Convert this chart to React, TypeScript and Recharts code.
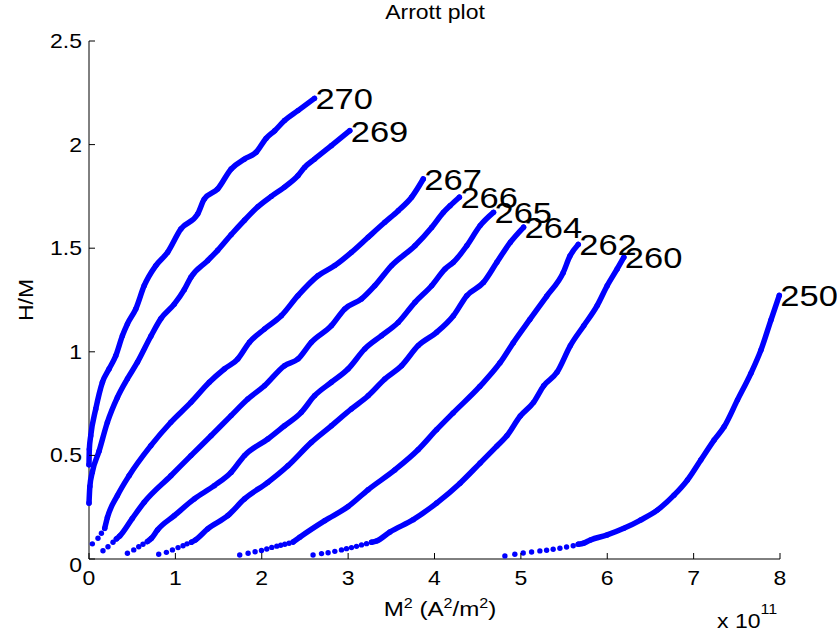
import React from 'react';
import { ScatterChart, Scatter, XAxis, YAxis } from 'recharts';

type Pt = [number, number];

// x: M^2 in units of 1e11 A^2/m^2, y: H/M
// run = dense part of each isotherm, tail = the loose points near H/M = 0
const run270: Pt[] = [
  [0.0, 0.455], [0.004, 0.53], [0.02, 0.595], [0.078, 0.724], [0.155, 0.853], [0.232, 0.917],
  [0.31, 0.981], [0.387, 1.078], [0.445, 1.135], [0.542, 1.207], [0.639, 1.319], [0.774, 1.416],
  [0.91, 1.48], [1.064, 1.593], [1.258, 1.665], [1.335, 1.737], [1.49, 1.786], [1.645, 1.882],
  [1.8, 1.93], [1.935, 1.963], [2.05, 2.03], [2.15, 2.067], [2.264, 2.116], [2.419, 2.164], [2.61, 2.223],
];
const run269: Pt[] = [
  [0.0, 0.27], [0.01, 0.35], [0.039, 0.42], [0.116, 0.52], [0.213, 0.66], [0.329, 0.78],
  [0.445, 0.87], [0.561, 0.95], [0.716, 1.075], [0.832, 1.16], [0.987, 1.23], [1.103, 1.3],
  [1.18, 1.36], [1.374, 1.44], [1.49, 1.49], [1.645, 1.565], [1.8, 1.635], [1.955, 1.7],
  [2.11, 1.75], [2.264, 1.795], [2.419, 1.85], [2.496, 1.89], [2.612, 1.93], [2.806, 1.995], [3.019, 2.067],
];
const tail267: Pt[] = [[0.039, 0.073], [0.104, 0.1], [0.144, 0.124]];
const run267: Pt[] = [
  [0.182, 0.148], [0.213, 0.2], [0.329, 0.306], [0.464, 0.402], [0.716, 0.547], [0.948, 0.66],
  [1.18, 0.756], [1.393, 0.853], [1.567, 0.917], [1.722, 0.965], [1.858, 1.046], [2.032, 1.11],
  [2.226, 1.174], [2.419, 1.271], [2.651, 1.367], [2.845, 1.416], [3.038, 1.48], [3.232, 1.553],
  [3.425, 1.625], [3.58, 1.681], [3.735, 1.746], [3.87, 1.834],
];
const tail266: Pt[] = [[0.162, 0.04], [0.22, 0.059], [0.278, 0.081]];
const run266: Pt[] = [
  [0.317, 0.097], [0.356, 0.111], [0.5, 0.195], [0.639, 0.274], [0.948, 0.402], [1.18, 0.499],
  [1.413, 0.595], [1.645, 0.692], [1.839, 0.772], [2.032, 0.836], [2.264, 0.933], [2.419, 0.965],
  [2.574, 1.046], [2.806, 1.126], [2.961, 1.207], [3.155, 1.255], [3.309, 1.319], [3.503, 1.416],
  [3.774, 1.512], [3.967, 1.6], [4.103, 1.673], [4.18, 1.705], [4.288, 1.746],
];
const tail265: Pt[] = [[0.445, 0.028], [0.518, 0.044], [0.576, 0.059], [0.625, 0.071]];
const run265: Pt[] = [
  [0.676, 0.084], [0.723, 0.1], [0.793, 0.14], [0.987, 0.209], [1.219, 0.29], [1.451, 0.354],
  [1.645, 0.418], [1.8, 0.499], [2.071, 0.579], [2.264, 0.643], [2.458, 0.708], [2.612, 0.788],
  [2.806, 0.853], [2.999, 0.917], [3.193, 1.014], [3.387, 1.078], [3.58, 1.142], [3.774, 1.239],
  [3.967, 1.319], [4.122, 1.4], [4.219, 1.432], [4.374, 1.512], [4.528, 1.609], [4.683, 1.673],
];
const tail264: Pt[] = [[0.807, 0.023], [0.896, 0.032], [0.966, 0.044], [1.031, 0.055], [1.089, 0.064], [1.135, 0.073]];
const run264: Pt[] = [
  [1.186, 0.081], [1.232, 0.092], [1.374, 0.145], [1.606, 0.209], [1.8, 0.29], [2.071, 0.37],
  [2.303, 0.45], [2.574, 0.563], [2.806, 0.643], [3.038, 0.724], [3.232, 0.788], [3.425, 0.869],
  [3.619, 0.933], [3.812, 1.03], [4.025, 1.094], [4.219, 1.174], [4.374, 1.271], [4.567, 1.335],
  [4.722, 1.432], [4.877, 1.528], [5.031, 1.601],
];
const tail262: Pt[] = [
  [1.745, 0.019], [1.842, 0.028], [1.923, 0.035], [1.997, 0.041], [2.058, 0.048],
  [2.116, 0.056], [2.174, 0.062], [2.22, 0.066], [2.267, 0.071], [2.316, 0.076],
];
const run262: Pt[] = [
  [2.363, 0.082], [2.44, 0.105], [2.73, 0.185], [3.0, 0.253], [3.231, 0.334], [3.541, 0.43],
  [3.81, 0.527], [4.024, 0.624], [4.216, 0.705], [4.525, 0.833], [4.757, 0.946], [4.911, 1.043],
  [5.104, 1.156], [5.298, 1.268], [5.49, 1.382], [5.568, 1.462], [5.664, 1.518],
];
const tail260: Pt[] = [
  [2.594, 0.019], [2.692, 0.026], [2.768, 0.03], [2.846, 0.037], [2.923, 0.044],
  [2.981, 0.05], [3.039, 0.055], [3.097, 0.061], [3.155, 0.068], [3.213, 0.074],
];
const run260: Pt[] = [
  [3.271, 0.081], [3.329, 0.087], [3.483, 0.13], [3.754, 0.19], [4.025, 0.27], [4.296, 0.366],
  [4.528, 0.463], [4.722, 0.545], [4.838, 0.595], [4.993, 0.69], [5.147, 0.756], [5.264, 0.836],
  [5.418, 0.901], [5.573, 1.03], [5.728, 1.126], [5.883, 1.223], [5.999, 1.319], [6.115, 1.4], [6.192, 1.456],
];
const tail250: Pt[] = [
  [4.815, 0.015], [4.93, 0.023], [5.027, 0.029], [5.124, 0.034], [5.22, 0.039],
  [5.298, 0.042], [5.374, 0.047], [5.452, 0.052], [5.529, 0.058], [5.606, 0.064],
];
const run250: Pt[] = [
  [5.664, 0.071], [5.73, 0.077], [5.806, 0.092], [5.999, 0.116], [6.192, 0.148], [6.386, 0.188],
  [6.58, 0.236], [6.773, 0.308], [6.928, 0.381], [7.083, 0.478], [7.237, 0.574], [7.353, 0.638],
  [7.508, 0.768], [7.663, 0.896], [7.779, 1.008], [7.895, 1.153], [7.992, 1.272],
];

const temps = ['270', '269', '267', '266', '265', '264', '262', '260', '250'];
const runs = [run270, run269, run267, run266, run265, run264, run262, run260, run250];
const tails = [[], [], tail267, tail266, tail265, tail264, tail262, tail260, tail250];

const xTicks = [0, 1, 2, 3, 4, 5, 6, 7, 8];
const yTicks = [0, 0.5, 1, 1.5, 2, 2.5];

const W = 837;
const H = 635;
const BLUE = '#0000ff';
const FONT = '"Liberation Sans", Arial, sans-serif';
const SX = 1.15; // glyphs are drawn a bit wide

document.body.style.margin = '0';

const toXY = (pts: Pt[]) => pts.map(([x, y]) => ({ x, y }));

const WideText = ({ x, y, size, anchor = 'start', rotate = 0, children }: any) => (
  <g transform={`translate(${x},${y}) rotate(${rotate}) scale(${SX},1)`}>
    <text x={0} y={0} textAnchor={anchor} fontSize={size} fontFamily={FONT} fill="#000">
      {children}
    </text>
  </g>
);

const Dot = (p: any) => <circle cx={p.cx} cy={p.cy} r={2.7} fill={BLUE} />;

const EndLabel = (p: any) => (
  <WideText x={p.cx + 1} y={p.cy + 11} size={30}>
    {p.payload.name}
  </WideText>
);

// ticks point into the plot
const XTick = (p: any) => (
  <g>
    <line x1={p.x} y1={p.y} x2={p.x} y2={p.y - 6} stroke="#000" />
    <WideText x={p.x} y={p.y + 26} size={20} anchor="middle">
      {String(p.payload.value)}
    </WideText>
  </g>
);

const YTick = (p: any) => (
  <g>
    <line x1={p.x} y1={p.y} x2={p.x + 6} y2={p.y} stroke="#000" />
    <WideText x={p.x - 7} y={p.y + 7 + (p.payload.value === 0 ? 6 : 0)} size={20} anchor="end">
      {String(p.payload.value)}
    </WideText>
  </g>
);

const ends = runs.map((r, i) => ({ x: r[r.length - 1][0], y: r[r.length - 1][1], name: temps[i] }));

const App = () => (
  <div style={{ position: 'relative', width: W, height: H, background: '#fff' }}>
    <ScatterChart width={W} height={H} margin={{ top: 41, right: 57, bottom: 0, left: 0 }}>
      <XAxis
        type="number"
        dataKey="x"
        domain={[0, 8]}
        ticks={xTicks}
        interval={0}
        height={76}
        axisLine={{ stroke: '#000' }}
        tickLine={false}
        tickSize={0}
        tickMargin={0}
        tick={XTick}
      />
      <YAxis
        type="number"
        dataKey="y"
        domain={[0, 2.5]}
        ticks={yTicks}
        interval={0}
        width={89}
        axisLine={{ stroke: '#000' }}
        tickLine={false}
        tickSize={0}
        tickMargin={0}
        tick={YTick}
      />
      {tails.map((t, i) => (
        <Scatter key={'tail' + temps[i]} data={toXY(t)} shape={Dot} isAnimationActive={false} />
      ))}
      {runs.map((r, i) => (
        <Scatter
          key={'run' + temps[i]}
          data={toXY(r)}
          shape={Dot}
          line={{ stroke: BLUE, strokeWidth: 5.5, strokeLinejoin: 'round', strokeLinecap: 'round' }}
          lineType="joint"
          lineJointType="monotoneX"
          isAnimationActive={false}
        />
      ))}
      <Scatter data={ends} shape={EndLabel} isAnimationActive={false} />
    </ScatterChart>
    <svg width={W} height={H} style={{ position: 'absolute', left: 0, top: 0, pointerEvents: 'none' }}>
      <WideText x={435} y={19} size={20} anchor="middle">Arrott plot</WideText>
      <WideText x={33} y={300} size={20} anchor="middle" rotate={-90}>H/M</WideText>
      <WideText x={440} y={616} size={21} anchor="middle">
        M<tspan dy={-8} fontSize={14}>2</tspan>
        <tspan dy={8}> (A</tspan>
        <tspan dy={-8} fontSize={14}>2</tspan>
        <tspan dy={8}>/m</tspan>
        <tspan dy={-8} fontSize={14}>2</tspan>
        <tspan dy={8}>)</tspan>
      </WideText>
      <WideText x={717} y={628} size={20}>
        x 10<tspan dy={-14} fontSize={14}>11</tspan>
      </WideText>
    </svg>
  </div>
);

export default App;
